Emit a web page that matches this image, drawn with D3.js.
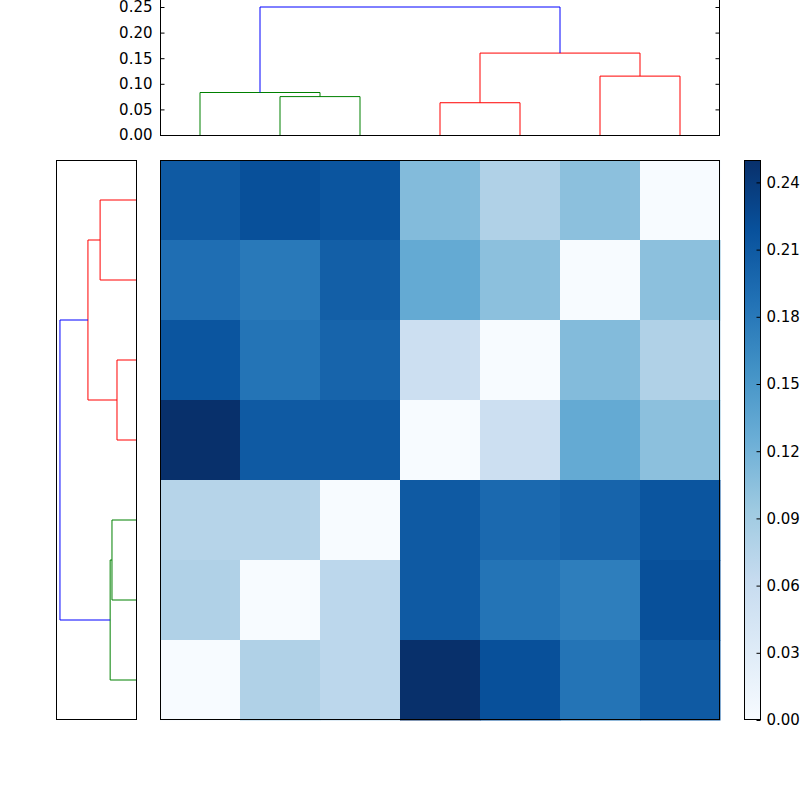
<!DOCTYPE html>
<html><head><meta charset="utf-8">
<script src="https://cdn.jsdelivr.net/npm/d3@7"></script>
<style>body{margin:0;background:#fff}text{font-family:"DejaVu Sans";font-size:13px}</style>
</head><body>
<svg id="c" width="800" height="800"></svg>
<script>
"use strict";
// heatmap values (rows top to bottom)
var matrix = [
  [0.21, 0.22, 0.215, 0.11, 0.08, 0.105, 0.0],
  [0.19, 0.18, 0.205, 0.13, 0.105, 0.0, 0.105],
  [0.215, 0.185, 0.20, 0.055, 0.0, 0.11, 0.08],
  [0.25, 0.21, 0.21, 0.0, 0.055, 0.13, 0.105],
  [0.075, 0.075, 0.0, 0.21, 0.195, 0.20, 0.215],
  [0.08, 0.0, 0.07, 0.21, 0.185, 0.175, 0.22],
  [0.0, 0.08, 0.07, 0.25, 0.22, 0.185, 0.21]
];
// dendrogram links: [leftPos, leftHeight, rightPos, rightHeight, height, color]; positions in leaf units
var topLinks = [
  [1, 0, 2, 0, 0.075, "green"],
  [0, 0, 1.5, 0.075, 0.083, "green"],
  [3, 0, 4, 0, 0.063, "red"],
  [5, 0, 6, 0, 0.115, "red"],
  [3.5, 0.063, 5.5, 0.115, 0.16, "red"],
  [0.75, 0.083, 4.5, 0.16, 0.25, "blue"]
];
var leftLinks = [
  [0, 0, 1, 0, 0.118, "red"],
  [2, 0, 3, 0, 0.0625, "red"],
  [0.5, 0.118, 2.5, 0.0625, 0.158, "red"],
  [4, 0, 5, 0, 0.079, "green"],
  [4.5, 0.079, 6, 0, 0.085, "green"],
  [1.5, 0.158, 5.25, 0.085, 0.25, "blue"]
];
var topTicks = [0, 0.05, 0.10, 0.15, 0.20, 0.25];
var cbTicks = [0, 0.03, 0.06, 0.09, 0.12, 0.15, 0.18, 0.21, 0.24];
var bluesStops = ["#f7fbff", "#deebf7", "#c6dbef", "#9ecae1", "#6baed6", "#4292c6", "#2171b5", "#08519c", "#08306b"];

var svg = d3.select("#c");
var n = matrix.length;
var cell = d3.scaleBand().domain(d3.range(n)).range([160, 720]);
var leaf = d3.scaleLinear().domain([-0.5, n - 0.5]).range([160, 720]);
var blues = d3.scaleLinear().domain(d3.range(bluesStops.length).map(function(i) { return i / (bluesStops.length - 1); }))
  .range(bluesStops).interpolate(d3.interpolateRgb);
var color = function(v) { return blues(v / 0.25); };

// heatmap
matrix.forEach(function(row, r) {
  svg.selectAll(null).data(row).enter().append("rect")
    .attr("x", function(d, c) { return cell(c); })
    .attr("y", cell(r))
    .attr("width", cell.bandwidth() + 0.5).attr("height", cell.bandwidth() + 0.5)
    .attr("fill", function(d) { return color(d); });
});
svg.append("rect").attr("x", 160.5).attr("y", 160.5).attr("width", 559).attr("height", 559)
  .attr("fill", "none").attr("stroke", "#000");

// top dendrogram
var ty = d3.scaleLinear().domain([0, 0.25]).range([135, 7]);
var tg = svg.append("g");
tg.selectAll("path").data(topLinks).enter().append("path")
  .attr("fill", "none").attr("stroke", function(d) { return d[5]; })
  .attr("d", function(d) {
    return "M" + leaf(d[0]) + "," + ty(d[1]) + "V" + ty(d[4]) + "H" + leaf(d[2]) + "V" + ty(d[3]);
  });
tg.append("rect").attr("x", 160.5).attr("y", -1).attr("width", 559).attr("height", 136.5)
  .attr("fill", "none").attr("stroke", "#000");
tg.append("g").attr("transform", "translate(160.5,0)")
  .call(d3.axisLeft(ty).tickValues(topTicks).tickFormat(d3.format(".2f")).tickSizeInner(-4).tickSizeOuter(0).tickPadding(8))
  .call(function(g) { g.select(".domain").remove(); g.selectAll("text").style("font-size", "15px").attr("fill", "#000"); });
tg.append("g").attr("transform", "translate(719.5,0)")
  .call(d3.axisRight(ty).tickValues(topTicks).tickFormat("").tickSizeInner(-4).tickSizeOuter(0))
  .call(function(g) { g.select(".domain").remove(); });

// left dendrogram
var lx = d3.scaleLinear().domain([0, 0.263]).range([136, 56]);
var lg = svg.append("g");
lg.selectAll("path").data(leftLinks).enter().append("path")
  .attr("fill", "none").attr("stroke", function(d) { return d[5]; })
  .attr("d", function(d) {
    return "M" + lx(d[1]) + "," + leaf(d[0]) + "H" + lx(d[4]) + "V" + leaf(d[2]) + "H" + lx(d[3]);
  });
lg.append("rect").attr("x", 56.5).attr("y", 160.5).attr("width", 80).attr("height", 559)
  .attr("fill", "none").attr("stroke", "#000");

// colorbar
var cy = d3.scaleLinear().domain([0, 0.25]).range([720, 160]);
var grad = svg.append("defs").append("linearGradient").attr("id", "cb")
  .attr("x1", 0).attr("y1", 1).attr("x2", 0).attr("y2", 0);
bluesStops.forEach(function(c, i) {
  grad.append("stop").attr("offset", i / (bluesStops.length - 1)).attr("stop-color", c);
});
svg.append("rect").attr("x", 744.5).attr("y", 160.5).attr("width", 16).attr("height", 559)
  .attr("fill", "url(#cb)").attr("stroke", "#000");
svg.append("g").attr("transform", "translate(760.5,0)")
  .call(d3.axisRight(cy).tickValues(cbTicks).tickFormat(d3.format(".2f")).tickSizeInner(-4).tickSizeOuter(0).tickPadding(6))
  .call(function(g) { g.select(".domain").remove(); g.selectAll("text").style("font-size", "15px").attr("fill", "#000"); });
</script>
</body></html>
